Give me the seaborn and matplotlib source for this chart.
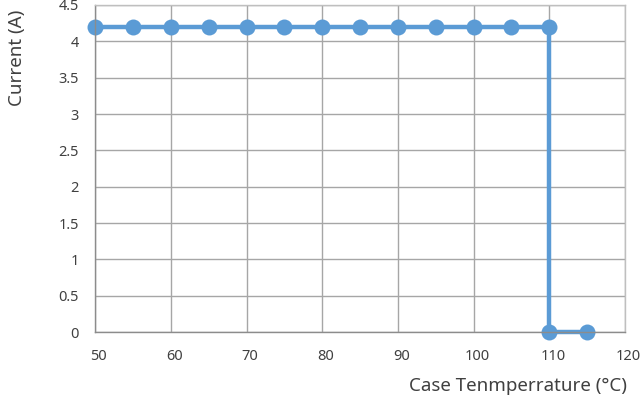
import matplotlib
matplotlib.use("Agg")
import matplotlib.pyplot as plt
import matplotlib.transforms as mtrans
import seaborn as sns
import pandas as pd

temps = [50, 55, 60, 65, 70, 75, 80, 85, 90, 95, 100, 105, 110, 110, 115]
current = [4.2, 4.2, 4.2, 4.2, 4.2, 4.2, 4.2, 4.2, 4.2, 4.2, 4.2, 4.2, 4.2, 0, 0]
x_ticks = [50, 60, 70, 80, 90, 100, 110, 120]
y_ticks = [0, 0.5, 1, 1.5, 2, 2.5, 3, 3.5, 4, 4.5]
y_labels = ["0", "0.5", "1", "1.5", "2", "2.5", "3", "3.5", "4", "4.5"]

sns.set_style("white")
plt.rcParams['font.family'] = ['Noto Sans', 'DejaVu Sans']

df = pd.DataFrame({"t": temps, "c": current})

fig = plt.figure(figsize=(6.41, 4.05), dpi=100)
ax = fig.add_axes([0.1487, 0.180, 0.8263, 0.8077])
sns.lineplot(data=df, x="t", y="c", sort=False, ax=ax, color="#5B9BD5",
             linewidth=3.2, marker="o", markersize=11.5, markeredgewidth=0,
             estimator=None)
ax.set_xlim(50, 120)
ax.set_ylim(0, 4.5)
ax.set_xticks(x_ticks)
ax.set_yticks(y_ticks)
ax.set_yticklabels(y_labels)
ax.grid(True, color="#a6a6a6", linewidth=1)
ax.set_axisbelow(True)
for s in ax.spines.values():
    s.set_color("#bfbfbf")
    s.set_linewidth(1)
ax.spines['left'].set_color("#8c8c8c")
ax.spines['bottom'].set_color("#8c8c8c")
ax.tick_params(axis='both', length=0, labelsize=10.5, colors="#404040")
ax.tick_params(axis='y', pad=12)
ax.tick_params(axis='x', pad=12)
off = mtrans.ScaledTranslation(2.5/72, 0, fig.dpi_scale_trans)
for lab in ax.get_xticklabels():
    lab.set_transform(lab.get_transform() + off)
ax.set_xlabel("Case Tenmperrature (°C)", fontsize=13.5, color="#404040")
ax.set_ylabel("Current (A)", fontsize=13.5, color="#404040")
ax.xaxis.set_label_coords(1.003, -0.165)
ax.xaxis.label.set_horizontalalignment('right')
ax.xaxis.label.set_verticalalignment('center')
ax.yaxis.set_label_coords(-0.147, 0.84)
ax.yaxis.label.set_horizontalalignment('center')
ax.yaxis.label.set_verticalalignment('center')
for l in ax.lines:
    l.set_clip_on(False)
fig.savefig("out.png", dpi=100)
